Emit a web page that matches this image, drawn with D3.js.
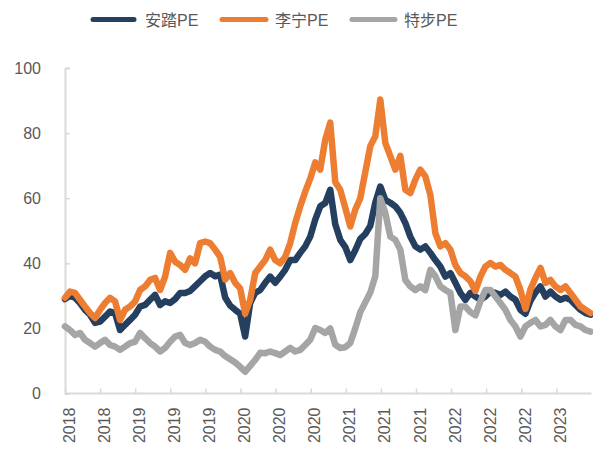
<!DOCTYPE html>
<html>
<head>
<meta charset="utf-8">
<script src="https://cdn.jsdelivr.net/npm/d3@7"></script>
<style>
  html, body { margin: 0; padding: 0; background: #ffffff; }
  svg { display: block; }
  text { font-family: "Liberation Sans", Arial, "Noto Sans CJK SC", sans-serif; }
</style>
</head>
<body>
<div id="chart"></div>
<script>
// ---- data ----
const xTickLabels = ["2018","2018","2019","2019","2019","2020","2020","2020","2021","2021","2021","2022","2022","2022","2023"];
const yTicks = [0, 20, 40, 60, 80, 100];
const seriesNames = ["安踏PE", "李宁PE", "特步PE"];

const antaPE = [
  29, 30, 29.4, 27.8, 25.7, 24.2, 21.7, 22.1, 23.6, 25.2,
  24.7, 19.5, 21.1, 22.6, 24.2, 26.7, 27.2, 28.8, 30.3, 27.2,
  28.3, 27.8, 29, 30.9, 30.9, 31.5, 33, 34.5, 36, 37,
  36, 36.5, 29.5, 27, 25.7, 24.5, 17.5, 27.8, 30.9, 31.8,
  34, 35.9, 34, 35.9, 38, 41, 41, 43.2, 45.2, 48.2,
  53.4, 57.5, 58.5, 62.6, 52, 47.2, 45, 41, 44, 47.5,
  49, 51.5, 58.6, 63.6, 59.5, 58.6, 57.5, 55.5, 52.4, 48.2,
  45.2, 44.2, 45.2, 43.2, 41, 39, 35.9, 37, 34, 30.9,
  28.8, 30.9, 29.8, 28.8, 29.8, 31.3, 30.9, 30.3, 31.3, 29.8,
  28.8, 25.7, 24.5, 28.5, 31, 32.9, 29.8, 31.3, 29.8, 28.8,
  29.4, 28.8, 27.2, 25.7, 24.7, 24.2
];

const liningPE = [
  29.4, 31.3, 30.9, 28.8, 26.7, 24.7, 23.2, 25.7, 27.8, 29.4,
  28.3, 22.6, 25.7, 26.7, 28.3, 31.8, 32.9, 34.9, 35.5, 31.8,
  35.9, 43.2, 40.5, 39.5, 38, 41.5, 40, 46.2, 46.7, 46.2,
  44.2, 42, 35, 37, 34, 32.3, 24.5, 28.8, 37, 39,
  41, 44.2, 41, 40, 42, 46.2, 52.4, 57.5, 62, 66,
  71, 68.8, 78, 83.2, 65, 62.6, 57, 51.3, 56.5, 60,
  68, 76, 79, 90.3, 77, 72.9, 68.8, 73, 62.6, 61.6,
  65.7, 68.8, 66.7, 61, 49.3, 45.2, 46.2, 44.2, 39.5, 37,
  36, 34.5, 31.5, 35.9, 39, 40.1, 39, 39.5, 38, 37,
  35.9, 31.8, 26, 32, 35.5, 38.6, 34, 34.9, 32.9, 31.8,
  32.9, 30.9, 28.8, 26.7, 25.7, 24.7
];

const xtepPE = [
  20.6, 19.5, 18, 18.6, 16.5, 15.5, 14.4, 15.5, 16.5, 14.9,
  14.4, 13.4, 14.4, 15.5, 15.9, 18.6, 17, 15.5, 14.4, 12.9,
  14, 15.9, 17.5, 18, 15.5, 14.9, 15.5, 16.5, 15.9, 14.4,
  13.4, 12.9, 11.5, 10.5, 9.5, 8.2, 6.7, 8.5, 10.3, 12.5,
  12.4, 12.9, 12.4, 11.8, 12.9, 14, 12.9, 13.4, 14.9, 16.5,
  20.1, 19.5, 18.6, 20, 15, 14, 14.2, 15.5, 20, 25,
  28, 31, 36, 60, 55.5, 48.2, 47.2, 44.2, 34.9, 32.9,
  31.8, 32.9, 31.8, 38, 36, 32.9, 31.8, 30.9, 19.5, 26.7,
  26.7, 25, 24, 28.3, 31.8, 31.8, 29.8, 27.8, 25.7, 22.6,
  20.6, 17.5, 20.6, 21.7, 22.6, 20.6, 21.1, 22.6, 20.6, 19.5,
  22.6, 22.6, 21.1, 20.6, 19.5, 19
];

const seriesValues = [antaPE, liningPE, xtepPE];
const seriesColors = ["#243F60", "#ED7D31", "#A5A5A5"];

// ---- layout ----
const W = 593, H = 449;
const plotLeft = 65, plotRight = 591.5, plotTop = 68, plotBottom = 393.5;

const svg = d3.select("#chart").append("svg")
  .attr("width", W).attr("height", H);

const y = d3.scaleLinear().domain([0, 100]).range([plotBottom, plotTop]);
const xTick = d3.scaleLinear().domain([0, xTickLabels.length]).range([plotLeft, plotRight]);

// axes
const axisColor = "#D9D9D9";
const textColor = "#595959";

const yAxis = d3.axisLeft(y).tickValues(yTicks).tickSize(-5).tickPadding(24).tickFormat(d3.format("d"));
const gy = svg.append("g").attr("transform", `translate(${plotLeft},0)`).call(yAxis);
gy.select(".domain").attr("stroke", axisColor).attr("stroke-width", 2);
gy.selectAll(".tick line").attr("stroke", axisColor).attr("stroke-width", 1.5);
gy.selectAll(".tick text").attr("fill", textColor).attr("font-size", 16)
  .attr("font-family", '"Liberation Sans", Arial, sans-serif');

const xAxis = d3.axisBottom(xTick).tickValues(d3.range(xTickLabels.length))
  .tickSize(-5).tickFormat(i => xTickLabels[i]);
const gx = svg.append("g").attr("transform", `translate(0,${plotBottom})`).call(xAxis);
gx.select(".domain").attr("stroke", axisColor).attr("stroke-width", 2)
  .attr("d", `M${plotLeft},0H${plotRight}`);
gx.selectAll(".tick line").attr("stroke", axisColor).attr("stroke-width", 1.5);
gx.selectAll(".tick text")
  .attr("fill", textColor).attr("font-size", 16)
  .attr("font-family", '"Liberation Sans", Arial, sans-serif')
  .attr("text-anchor", "end")
  .attr("transform", "rotate(-90)")
  .attr("x", -14).attr("y", 9).attr("dy", null);

// lines
const plot = svg.append("g");
seriesValues.forEach((vals, si) => {
  const x = d3.scaleLinear().domain([0, vals.length - 1]).range([plotLeft, plotRight - 1]);
  const line = d3.line().x((d, i) => x(i)).y(d => y(d)).curve(d3.curveLinear);
  plot.append("path")
    .datum(vals)
    .attr("d", line)
    .attr("fill", "none")
    .attr("stroke", seriesColors[si])
    .attr("stroke-width", 6.5)
    .attr("stroke-linejoin", "round")
    .attr("stroke-linecap", "round");
});

// legend
const legendItems = [
  { x1: 93, x2: 134, tx: 145 },
  { x1: 222, x2: 266, tx: 275 },
  { x1: 352, x2: 395, tx: 404 }
];
const lg = svg.append("g");
legendItems.forEach((it, i) => {
  lg.append("line")
    .attr("x1", it.x1).attr("x2", it.x2).attr("y1", 19.5).attr("y2", 19.5)
    .attr("stroke", seriesColors[i]).attr("stroke-width", 5)
    .attr("stroke-linecap", "round");
  lg.append("text")
    .attr("x", it.tx).attr("y", 26)
    .attr("fill", textColor).attr("font-size", 16)
    .attr("font-family", '"Noto Sans CJK SC", "Liberation Sans", sans-serif')
    .text(seriesNames[i]);
});
</script>
</body>
</html>
